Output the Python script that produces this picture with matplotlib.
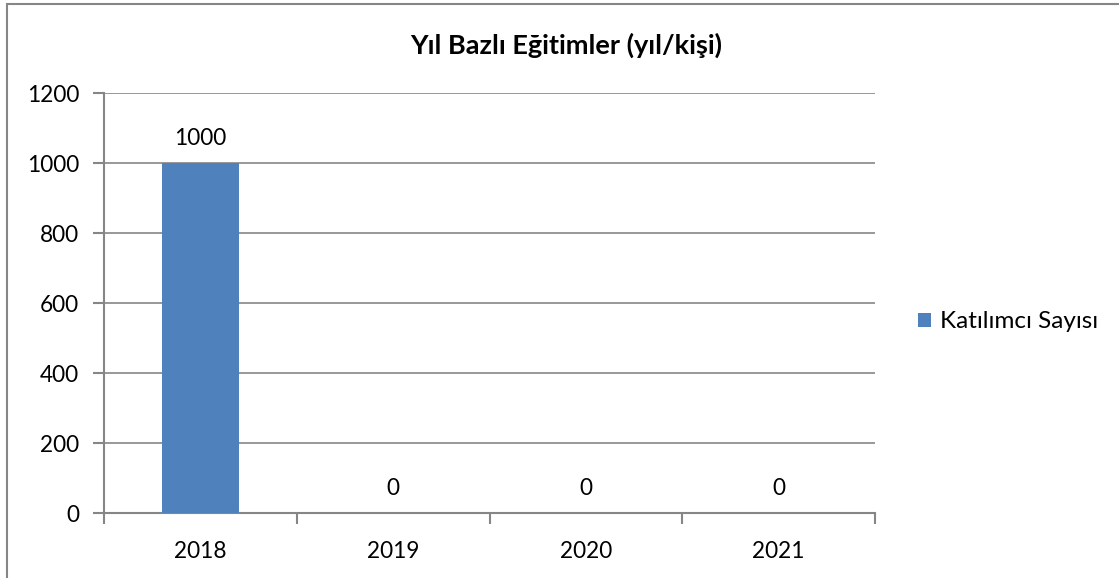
import matplotlib
matplotlib.use("Agg")
import matplotlib.pyplot as plt
from matplotlib.patches import Rectangle

years = ["2018", "2019", "2020", "2021"]
participants = [1000, 0, 0, 0]
series_name = "Katılımcı Sayısı"
title = "Yıl Bazlı Eğitimler (yıl/kişi)"
yticks = [0, 200, 400, 600, 800, 1000, 1200]

plt.rcParams['font.family'] = ['Lato', 'DejaVu Sans']
W, H = 1119, 578
fig = plt.figure(figsize=(W/100, H/100), dpi=100)
gray = "#868686"
fs = 16.3

# outer chart border (left and top visible)
fig.patches.append(Rectangle((7/W, -0.1), 1.2, (578-4)/H + 0.1, transform=fig.transFigure,
                             fill=False, edgecolor=gray, linewidth=1.5))

ax = fig.add_axes([104/W, 1-513/H, (875-104)/W, (513-93)/H])
x = list(range(len(years)))
bars = ax.bar(x, participants, width=0.4, color="#4F81BD", label=series_name, zorder=3)
ax.set_xlim(-0.5, 3.5)
ax.set_ylim(0, 1200)
ax.set_yticks(yticks)
ax.set_xticks([-0.5, 0.5, 1.5, 2.5, 3.5], minor=False)
ax.set_xticklabels([])
ax.set_xticks(x, minor=True)
ax.set_xticklabels(years, minor=True)
ax.tick_params(axis='x', which='minor', length=0, pad=20, labelsize=fs)
ax.tick_params(axis='x', which='major', length=8, color=gray, width=1.5, direction='out')
ax.tick_params(axis='y', length=8, color=gray, width=1.5, labelsize=fs, pad=10)
ax.grid(axis='y', color=gray, linewidth=1.2, zorder=0)
for s in ['top', 'right']:
    ax.spines[s].set_visible(False)
for s in ['left', 'bottom']:
    ax.spines[s].set_color(gray)
    ax.spines[s].set_linewidth(1.5)

for xi, v in zip(x, participants):
    ax.annotate(str(v), (xi, v), xytext=(0, 10), textcoords='offset points',
                ha='center', va='bottom', fontsize=fs)

fig.text(566/W, 1-45/H, title, ha='center', va='center', fontsize=19.5, fontweight='bold')

leg = fig.legend(handles=[bars], labels=[series_name], loc='center left',
                 bbox_to_anchor=(896/W, 1-322/H), frameon=False, fontsize=17.5,
                 handlelength=0.55, handleheight=0.55, handletextpad=0.35)

fig.savefig("out.png", dpi=100)
